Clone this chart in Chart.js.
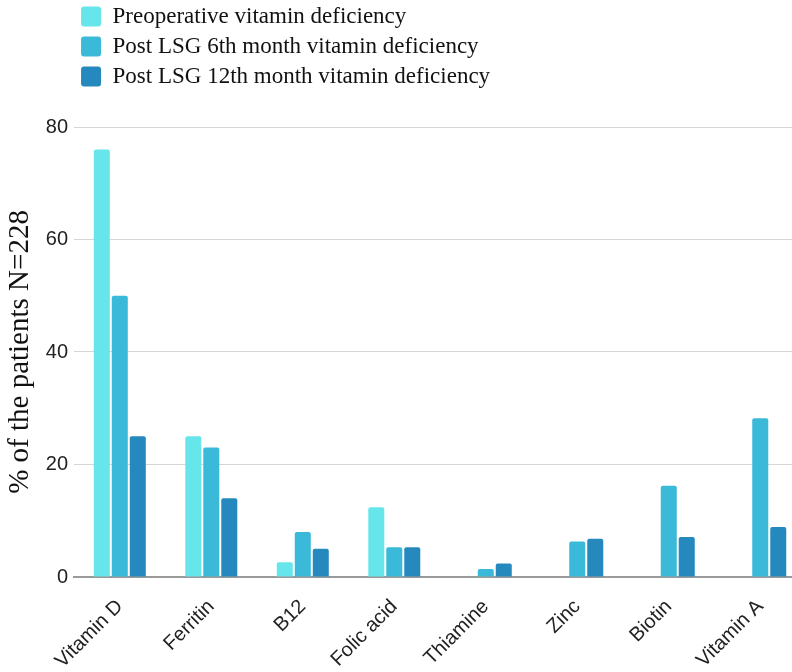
<!DOCTYPE html>
<html>
<head>
<meta charset="utf-8">
<script src="https://cdn.jsdelivr.net/npm/chart.js@4.4.1/dist/chart.umd.min.js"></script>
<style>
  html, body { margin: 0; padding: 0; background: #fff; overflow: hidden; }
  #wrap { width: 812px; height: 672px; }
</style>
</head>
<body>
<div id="wrap"><canvas id="chart"></canvas></div>
<script>
const categories = ["Vitamin D", "Ferritin", "B12", "Folic acid", "Thiamine", "Zinc", "Biotin", "Vitamin A"];
const seriesNames = [
  "Preoperative vitamin deficiency",
  "Post LSG 6th month vitamin deficiency",
  "Post LSG 12th month vitamin deficiency"
];
const preop = [76, 25, 2.6, 12.4, 0, 0, 0, 0];
const month6 = [50, 23, 8, 5.3, 1.4, 6.3, 16.2, 28.2];
const month12 = [25, 14, 5, 5.3, 2.4, 6.8, 7.1, 8.9];
const yMin = 0, yMax = 80, yStep = 20;
const colors = ["#66e6ea", "#3ab9d8", "#2689be"];

// extra space between the legend and the plot
const legendGap = {
  id: "legendGap",
  beforeInit(chart) {
    const fit = chart.legend.fit;
    chart.legend.fit = function () {
      fit.call(this);
      this.height += 29;
    };
  }
};

const serif = "'Liberation Serif', 'Times New Roman', serif";
const sans = "'Liberation Sans', Arial, sans-serif";

new Chart(document.getElementById("chart"), {
  type: "bar",
  data: {
    labels: categories,
    datasets: [preop, month6, month12].map((d, i) => ({
      label: seriesNames[i],
      data: d,
      backgroundColor: colors[i],
      borderWidth: 0,
      borderRadius: { topLeft: 2, topRight: 2 },
      borderSkipped: "bottom",
      barPercentage: 0.89,
      categoryPercentage: 0.59
    }))
  },
  plugins: [legendGap],
  options: {
    responsive: true,
    maintainAspectRatio: false,
    animation: false,
    layout: { padding: { top: -2, left: 2, right: 6, bottom: -19 } },
    plugins: {
      tooltip: { enabled: false },
      legend: {
        position: "top",
        align: "start",
        fullSize: false,
        labels: {
          color: "#111",
          font: { family: serif, size: 23 },
          boxWidth: 20,
          boxHeight: 20,
          padding: 7,
          useBorderRadius: true,
          borderRadius: 3
        }
      }
    },
    scales: {
      x: {
        grid: { display: false, drawTicks: false },
        border: { display: true, color: "#9a9a9a", width: 2 },
        ticks: {
          color: "#222",
          font: { family: sans, size: 20 },
          maxRotation: 45,
          minRotation: 45,
          padding: 18
        }
      },
      y: {
        min: yMin,
        max: yMax,
        grid: { color: "#d6d6d6", lineWidth: 1, drawTicks: false },
        border: { display: false },
        ticks: {
          stepSize: yStep,
          color: "#222",
          font: { family: sans, size: 20 },
          padding: 6
        },
        title: {
          display: true,
          text: "% of the patients N=228",
          color: "#111",
          font: { family: serif, size: 29 },
          padding: { top: 1, bottom: 2 }
        }
      }
    }
  }
});
</script>
</body>
</html>
